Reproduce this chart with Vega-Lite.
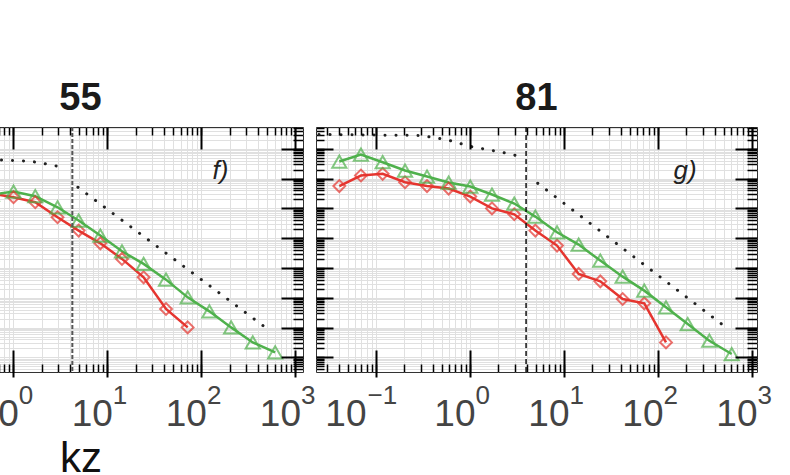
{
  "$schema": "https://vega.github.io/schema/vega-lite/v6.json",
  "padding": {"left": -144, "top": 79, "right": 0, "bottom": 0},
  "bounds": "flush",
  "spacing": 13,
  "config": {"view": {"stroke": "#333333", "strokeWidth": 1}, "font": "Liberation Sans"},
  "datasets": {
    "spectra": [
      {"panel": "55", "series": "A", "kz": 0.5929, "E": 0.03148},
      {"panel": "55", "series": "A", "kz": 1.007, "E": 0.02366},
      {"panel": "55", "series": "A", "kz": 1.714, "E": 0.01607},
      {"panel": "55", "series": "A", "kz": 2.958, "E": 0.005035},
      {"panel": "55", "series": "A", "kz": 4.955, "E": 0.001803},
      {"panel": "55", "series": "A", "kz": 8.433, "E": 0.0006745},
      {"panel": "55", "series": "A", "kz": 14.32, "E": 0.0002018},
      {"panel": "55", "series": "A", "kz": 24.32, "E": 4.864e-5},
      {"panel": "55", "series": "A", "kz": 42.07, "E": 4.217e-6},
      {"panel": "55", "series": "A", "kz": 71.45, "E": 1.016e-6},
      {"panel": "55", "series": "B", "kz": 0.5929, "E": 0.02917},
      {"panel": "55", "series": "B", "kz": 1.007, "E": 0.03681},
      {"panel": "55", "series": "B", "kz": 1.714, "E": 0.02559},
      {"panel": "55", "series": "B", "kz": 2.958, "E": 0.01091},
      {"panel": "55", "series": "B", "kz": 4.955, "E": 0.003908},
      {"panel": "55", "series": "B", "kz": 8.433, "E": 0.001225},
      {"panel": "55", "series": "B", "kz": 14.32, "E": 0.0003631},
      {"panel": "55", "series": "B", "kz": 24.32, "E": 0.0001371},
      {"panel": "55", "series": "B", "kz": 42.07, "E": 4.074e-5},
      {"panel": "55", "series": "B", "kz": 71.45, "E": 1.035e-5},
      {"panel": "55", "series": "B", "kz": 121.6, "E": 3.508e-6},
      {"panel": "55", "series": "B", "kz": 207.0, "E": 1.016e-6},
      {"panel": "55", "series": "B", "kz": 351.6, "E": 3.184e-7},
      {"panel": "55", "series": "B", "kz": 608.1, "E": 1.472e-7},
      {"panel": "81", "series": "A", "kz": 0.04074, "E": 0.0562},
      {"panel": "81", "series": "A", "kz": 0.06918, "E": 0.1268},
      {"panel": "81", "series": "A", "kz": 0.1178, "E": 0.1445},
      {"panel": "81", "series": "A", "kz": 0.2037, "E": 0.0755},
      {"panel": "81", "series": "A", "kz": 0.3491, "E": 0.0562},
      {"panel": "81", "series": "A", "kz": 0.5929, "E": 0.0463},
      {"panel": "81", "series": "A", "kz": 1.007, "E": 0.025},
      {"panel": "81", "series": "A", "kz": 1.714, "E": 0.01002},
      {"panel": "81", "series": "A", "kz": 2.958, "E": 0.00635},
      {"panel": "81", "series": "A", "kz": 4.955, "E": 0.0018},
      {"panel": "81", "series": "A", "kz": 8.433, "E": 0.000565},
      {"panel": "81", "series": "A", "kz": 14.32, "E": 6.32e-5},
      {"panel": "81", "series": "A", "kz": 24.32, "E": 3.56e-5},
      {"panel": "81", "series": "A", "kz": 42.07, "E": 9.14e-6},
      {"panel": "81", "series": "A", "kz": 71.45, "E": 6.52e-6},
      {"panel": "81", "series": "A", "kz": 121.6, "E": 3.19e-7},
      {"panel": "81", "series": "B", "kz": 0.04074, "E": 0.374},
      {"panel": "81", "series": "B", "kz": 0.06918, "E": 0.644},
      {"panel": "81", "series": "B", "kz": 0.1178, "E": 0.355},
      {"panel": "81", "series": "B", "kz": 0.2037, "E": 0.1866},
      {"panel": "81", "series": "B", "kz": 0.3491, "E": 0.1175},
      {"panel": "81", "series": "B", "kz": 0.5929, "E": 0.0738},
      {"panel": "81", "series": "B", "kz": 1.007, "E": 0.0542},
      {"panel": "81", "series": "B", "kz": 1.714, "E": 0.0292},
      {"panel": "81", "series": "B", "kz": 2.958, "E": 0.01455},
      {"panel": "81", "series": "B", "kz": 4.955, "E": 0.00532},
      {"panel": "81", "series": "B", "kz": 8.433, "E": 0.00158},
      {"panel": "81", "series": "B", "kz": 14.32, "E": 0.00061},
      {"panel": "81", "series": "B", "kz": 24.32, "E": 0.000177},
      {"panel": "81", "series": "B", "kz": 42.07, "E": 5.13e-5},
      {"panel": "81", "series": "B", "kz": 71.45, "E": 1.74e-5},
      {"panel": "81", "series": "B", "kz": 121.6, "E": 4.78e-6},
      {"panel": "81", "series": "B", "kz": 207.0, "E": 1.32e-6},
      {"panel": "81", "series": "B", "kz": 351.6, "E": 3.63e-7},
      {"panel": "81", "series": "B", "kz": 608.1, "E": 1.3e-7}
    ],
    "model": [
      {"panel": "55", "seg": 1, "kz": 0.5734, "E": 0.4371},
      {"panel": "55", "seg": 1, "kz": 1.528, "E": 0.3832},
      {"panel": "55", "seg": 1, "kz": 2.555, "E": 0.2901},
      {"panel": "55", "seg": 1, "kz": 3.034, "E": 0.2543},
      {"panel": "55", "seg": 2, "kz": 4.866, "E": 0.05129},
      {"panel": "55", "seg": 2, "kz": 503.5, "E": 8.995e-7},
      {"panel": "81", "seg": 1, "kz": 0.02477, "E": 3.02},
      {"panel": "81", "seg": 1, "kz": 0.3013, "E": 2.8},
      {"panel": "81", "seg": 1, "kz": 0.5559, "E": 2.051},
      {"panel": "81", "seg": 1, "kz": 1.025, "E": 1.195},
      {"panel": "81", "seg": 1, "kz": 2.665, "E": 0.679},
      {"panel": "81", "seg": 1, "kz": 3.664, "E": 0.5105},
      {"panel": "81", "seg": 2, "kz": 5.252, "E": 0.0699},
      {"panel": "81", "seg": 2, "kz": 528.8, "E": 1.017e-6}
    ],
    "cutoff": [
      {"panel": "55", "kz": 4.25},
      {"panel": "81", "kz": 3.95}
    ],
    "labels": [
      {"panel": "55", "label": "f)"},
      {"panel": "81", "label": "g)"}
    ]
  },
  "hconcat": [
    {
      "width": 445,
      "height": 245,
      "title": {"text": "55", "fontSize": 38, "fontWeight": "bold", "font": "Liberation Sans", "color": "#1a1a1a", "frame": "group", "offset": -22, "baseline": "alphabetic"},
      "resolve": {"axis": {"x": "independent", "y": "independent"}},
      "layer": [
        {
          "data": {"name": "spectra"},
          "transform": [{"filter": "datum.panel == '55'"}],
          "mark": {"type": "line", "strokeWidth": 2.5, "clip": true},
          "encoding": {
            "x": {"field": "kz", "type": "quantitative", "scale": {"type": "log", "domain": [0.022387, 1202.3], "nice": false},
              "axis": {"orient": "bottom", "values": [0.03,0.04,0.05,0.06,0.07,0.08,0.09,0.1,0.2,0.3,0.4,0.5,0.6,0.7,0.8,0.9,1,2,3,4,5,6,7,8,9,10,20,30,40,50,60,70,80,90,100,200,300,400,500,600,700,800,900,1000], "grid": true, "gridColor": "#e0e0e0", "gridWidth": 1, "ticks": true, "tickSize": -8, "tickColor": "#000000", "tickWidth": 1.5, "labels": false, "domain": false, "title": null, "zindex": 0}},
            "y": {"field": "E", "type": "quantitative", "scale": {"type": "log", "domain": [3.236e-8, 5.395], "nice": false},
              "axis": {"orient": "left", "values": [4e-8,5e-8,6e-8,7e-8,8e-8,9e-8,1e-7,2e-7,3e-7,4e-7,5e-7,6e-7,7e-7,8e-7,9e-7,1e-6,2e-6,3e-6,4e-6,5e-6,6e-6,7e-6,8e-6,9e-6,1e-5,2e-5,3e-5,4e-5,5e-5,6e-5,7e-5,8e-5,9e-5,0.0001,0.0002,0.0003,0.0004,0.0005,0.0006,0.0007,0.0008,0.0009,0.001,0.002,0.003,0.004,0.005,0.006,0.007,0.008,0.009,0.01,0.02,0.03,0.04,0.05,0.06,0.07,0.08,0.09,0.1,0.2,0.3,0.4,0.5,0.6,0.7,0.8,0.9,1,2,3,4,5], "grid": true, "gridColor": "#e0e0e0", "gridWidth": 1, "ticks": true, "tickSize": -8, "tickColor": "#000000", "tickWidth": 1.5, "labels": false, "domain": false, "title": null, "zindex": 0}},
            "color": {"field": "series", "type": "nominal", "scale": {"domain": ["A", "B"], "range": ["#e5352f", "#4fb14c"]}, "legend": null}
          }
        },
        {
          "data": {"name": "spectra"},
          "transform": [{"filter": "datum.panel == '55' && datum.series == 'A'"}],
          "mark": {"type": "point", "shape": "diamond", "filled": false, "size": 140, "strokeWidth": 2, "color": "#e5352f", "clip": true},
          "encoding": {
            "x": {"field": "kz", "type": "quantitative", "scale": {"type": "log", "domain": [0.022387, 1202.3], "nice": false},
              "axis": {"orient": "bottom", "values": [0.1, 1, 10, 100, 1000], "grid": false, "ticks": true, "tickSize": -27, "offset": 5, "tickColor": "#000000", "tickWidth": 2, "labels": false, "domain": false, "title": null, "zindex": 1}},
            "y": {"field": "E", "type": "quantitative", "scale": {"type": "log", "domain": [3.236e-8, 5.395], "nice": false},
              "axis": {"orient": "left", "values": [1e-7,1e-6,1e-5,0.0001,0.001,0.01,0.1,1], "grid": false, "ticks": true, "tickSize": -17, "tickColor": "#000000", "tickWidth": 2, "labels": false, "domain": false, "title": null, "zindex": 1}}
          }
        },
        {
          "data": {"name": "spectra"},
          "transform": [{"filter": "datum.panel == '55' && datum.series == 'B'"}],
          "mark": {"type": "point", "shape": "triangle-up", "filled": false, "size": 200, "strokeWidth": 2, "color": "#4fb14c", "clip": true},
          "encoding": {
            "x": {"field": "kz", "type": "quantitative", "scale": {"type": "log", "domain": [0.022387, 1202.3], "nice": false},
              "axis": {"orient": "top", "values": [0.03,0.04,0.05,0.06,0.07,0.08,0.09,0.1,0.2,0.3,0.4,0.5,0.6,0.7,0.8,0.9,1,2,3,4,5,6,7,8,9,10,20,30,40,50,60,70,80,90,100,200,300,400,500,600,700,800,900,1000], "grid": false, "ticks": true, "tickSize": -8, "tickColor": "#000000", "tickWidth": 1.5, "labels": false, "domain": false, "title": null, "zindex": 1}},
            "y": {"field": "E", "type": "quantitative", "scale": {"type": "log", "domain": [3.236e-8, 5.395], "nice": false},
              "axis": {"orient": "right", "values": [4e-8,5e-8,6e-8,7e-8,8e-8,9e-8,1e-7,2e-7,3e-7,4e-7,5e-7,6e-7,7e-7,8e-7,9e-7,1e-6,2e-6,3e-6,4e-6,5e-6,6e-6,7e-6,8e-6,9e-6,1e-5,2e-5,3e-5,4e-5,5e-5,6e-5,7e-5,8e-5,9e-5,0.0001,0.0002,0.0003,0.0004,0.0005,0.0006,0.0007,0.0008,0.0009,0.001,0.002,0.003,0.004,0.005,0.006,0.007,0.008,0.009,0.01,0.02,0.03,0.04,0.05,0.06,0.07,0.08,0.09,0.1,0.2,0.3,0.4,0.5,0.6,0.7,0.8,0.9,1,2,3,4,5], "grid": false, "ticks": true, "tickSize": -10, "tickColor": "#000000", "tickWidth": 1.5, "labels": false, "domain": false, "title": null, "zindex": 1}}
          }
        },
        {
          "data": {"name": "model"},
          "transform": [{"filter": "datum.panel == '55'"}],
          "mark": {"type": "line", "color": "#222222", "strokeWidth": 3, "strokeCap": "round", "strokeDash": [0.1, 10.9], "clip": true},
          "encoding": {
            "detail": {"field": "seg", "type": "nominal"},
            "x": {"field": "kz", "type": "quantitative", "scale": {"type": "log", "domain": [0.022387, 1202.3], "nice": false},
              "axis": {"orient": "top", "values": [0.1, 1, 10, 100, 1000], "grid": false, "ticks": true, "tickSize": -22, "tickColor": "#000000", "tickWidth": 2, "labels": false, "domain": false, "title": null, "zindex": 1}},
            "y": {"field": "E", "type": "quantitative", "scale": {"type": "log", "domain": [3.236e-8, 5.395], "nice": false},
              "axis": {"orient": "right", "values": [1e-7,1e-6,1e-5,0.0001,0.001,0.01,0.1,1], "grid": false, "ticks": true, "tickSize": -22, "tickColor": "#000000", "tickWidth": 2, "labels": false, "domain": false, "title": null, "zindex": 1}}
          }
        },
        {
          "data": {"name": "cutoff"},
          "transform": [{"filter": "datum.panel == '55'"}],
          "mark": {"type": "rule", "color": "#555555", "strokeWidth": 2, "strokeDash": [4, 2]},
          "encoding": {
            "x": {"field": "kz", "type": "quantitative", "scale": {"type": "log", "domain": [0.022387, 1202.3], "nice": false},
              "axis": {"orient": "bottom", "values": [0.1, 1, 10, 100, 1000], "grid": false, "ticks": false, "labels": true, "domain": false, "labelExpr": "'10'", "labelFont": "Liberation Sans Narrow, Liberation Sans", "labelFontSize": 37, "labelColor": "#444444", "labelAlign": "right", "labelBaseline": "alphabetic", "labelPadding": 53.5, "labelOffset": {"condition": {"test": "datum.value < 0.5", "value": -10}, "value": 5}, "labelFlush": false, "labelOverlap": false, "title": "kz", "titleFont": "Liberation Sans", "titleFontSize": 42, "titleFontWeight": "normal", "titleColor": "#111111", "titleY": 99.5, "titleBaseline": "alphabetic", "zindex": 1}}
          }
        },
        {
          "data": {"name": "labels"},
          "transform": [{"filter": "datum.panel == '55'"}],
          "mark": {"type": "text", "font": "Liberation Sans", "fontStyle": "italic", "fontSize": 26, "color": "#222222", "align": "center", "baseline": "middle"},
          "encoding": {
            "text": {"field": "label", "type": "nominal"},
            "x": {"datum": 159.7, "type": "quantitative", "scale": {"type": "log", "domain": [0.022387, 1202.3], "nice": false},
              "axis": {"orient": "bottom", "values": [0.1, 1, 10, 100, 1000], "grid": false, "ticks": false, "labels": true, "domain": false, "labelExpr": "datum.value < 0.5 ? '−1' : datum.value < 5 ? '0' : datum.value < 50 ? '1' : datum.value < 500 ? '2' : '3'", "labelFont": "Liberation Sans Narrow, Liberation Sans", "labelFontSize": 26, "labelColor": "#444444", "labelAlign": "left", "labelBaseline": "alphabetic", "labelPadding": 31.5, "labelOffset": {"condition": {"test": "datum.value < 0.5", "value": -9}, "value": 5}, "labelFlush": false, "labelOverlap": false, "title": null, "zindex": 1}},
            "y": {"datum": 0.1866, "type": "quantitative", "scale": {"type": "log", "domain": [3.236e-8, 5.395], "nice": false}, "axis": null}
          }
        }
      ]
    },
    {
      "width": 441,
      "height": 245,
      "title": {"text": "81", "fontSize": 38, "fontWeight": "bold", "font": "Liberation Sans", "color": "#1a1a1a", "frame": "group", "offset": -22, "baseline": "alphabetic"},
      "resolve": {"axis": {"x": "independent", "y": "independent"}},
      "layer": [
        {
          "data": {"name": "spectra"},
          "transform": [{"filter": "datum.panel == '81'"}],
          "mark": {"type": "line", "strokeWidth": 2.5, "clip": true},
          "encoding": {
            "x": {"field": "kz", "type": "quantitative", "scale": {"type": "log", "domain": [0.023014, 1129.8], "nice": false},
              "axis": {"orient": "bottom", "values": [0.03,0.04,0.05,0.06,0.07,0.08,0.09,0.1,0.2,0.3,0.4,0.5,0.6,0.7,0.8,0.9,1,2,3,4,5,6,7,8,9,10,20,30,40,50,60,70,80,90,100,200,300,400,500,600,700,800,900,1000], "grid": true, "gridColor": "#e0e0e0", "gridWidth": 1, "ticks": true, "tickSize": -8, "tickColor": "#000000", "tickWidth": 1.5, "labels": false, "domain": false, "title": null, "zindex": 0}},
            "y": {"field": "E", "type": "quantitative", "scale": {"type": "log", "domain": [3.236e-8, 5.395], "nice": false},
              "axis": {"orient": "left", "values": [4e-8,5e-8,6e-8,7e-8,8e-8,9e-8,1e-7,2e-7,3e-7,4e-7,5e-7,6e-7,7e-7,8e-7,9e-7,1e-6,2e-6,3e-6,4e-6,5e-6,6e-6,7e-6,8e-6,9e-6,1e-5,2e-5,3e-5,4e-5,5e-5,6e-5,7e-5,8e-5,9e-5,0.0001,0.0002,0.0003,0.0004,0.0005,0.0006,0.0007,0.0008,0.0009,0.001,0.002,0.003,0.004,0.005,0.006,0.007,0.008,0.009,0.01,0.02,0.03,0.04,0.05,0.06,0.07,0.08,0.09,0.1,0.2,0.3,0.4,0.5,0.6,0.7,0.8,0.9,1,2,3,4,5], "grid": true, "gridColor": "#e0e0e0", "gridWidth": 1, "ticks": true, "tickSize": -8, "tickColor": "#000000", "tickWidth": 1.5, "labels": false, "domain": false, "title": null, "zindex": 0}},
            "color": {"field": "series", "type": "nominal", "scale": {"domain": ["A", "B"], "range": ["#e5352f", "#4fb14c"]}, "legend": null}
          }
        },
        {
          "data": {"name": "spectra"},
          "transform": [{"filter": "datum.panel == '81' && datum.series == 'A'"}],
          "mark": {"type": "point", "shape": "diamond", "filled": false, "size": 140, "strokeWidth": 2, "color": "#e5352f", "clip": true},
          "encoding": {
            "x": {"field": "kz", "type": "quantitative", "scale": {"type": "log", "domain": [0.023014, 1129.8], "nice": false},
              "axis": {"orient": "bottom", "values": [0.1, 1, 10, 100, 1000], "grid": false, "ticks": true, "tickSize": -27, "offset": 5, "tickColor": "#000000", "tickWidth": 2, "labels": false, "domain": false, "title": null, "zindex": 1}},
            "y": {"field": "E", "type": "quantitative", "scale": {"type": "log", "domain": [3.236e-8, 5.395], "nice": false},
              "axis": {"orient": "left", "values": [1e-7,1e-6,1e-5,0.0001,0.001,0.01,0.1,1], "grid": false, "ticks": true, "tickSize": -17, "tickColor": "#000000", "tickWidth": 2, "labels": false, "domain": false, "title": null, "zindex": 1}}
          }
        },
        {
          "data": {"name": "spectra"},
          "transform": [{"filter": "datum.panel == '81' && datum.series == 'B'"}],
          "mark": {"type": "point", "shape": "triangle-up", "filled": false, "size": 200, "strokeWidth": 2, "color": "#4fb14c", "clip": true},
          "encoding": {
            "x": {"field": "kz", "type": "quantitative", "scale": {"type": "log", "domain": [0.023014, 1129.8], "nice": false},
              "axis": {"orient": "top", "values": [0.03,0.04,0.05,0.06,0.07,0.08,0.09,0.1,0.2,0.3,0.4,0.5,0.6,0.7,0.8,0.9,1,2,3,4,5,6,7,8,9,10,20,30,40,50,60,70,80,90,100,200,300,400,500,600,700,800,900,1000], "grid": false, "ticks": true, "tickSize": -8, "tickColor": "#000000", "tickWidth": 1.5, "labels": false, "domain": false, "title": null, "zindex": 1}},
            "y": {"field": "E", "type": "quantitative", "scale": {"type": "log", "domain": [3.236e-8, 5.395], "nice": false},
              "axis": {"orient": "right", "values": [4e-8,5e-8,6e-8,7e-8,8e-8,9e-8,1e-7,2e-7,3e-7,4e-7,5e-7,6e-7,7e-7,8e-7,9e-7,1e-6,2e-6,3e-6,4e-6,5e-6,6e-6,7e-6,8e-6,9e-6,1e-5,2e-5,3e-5,4e-5,5e-5,6e-5,7e-5,8e-5,9e-5,0.0001,0.0002,0.0003,0.0004,0.0005,0.0006,0.0007,0.0008,0.0009,0.001,0.002,0.003,0.004,0.005,0.006,0.007,0.008,0.009,0.01,0.02,0.03,0.04,0.05,0.06,0.07,0.08,0.09,0.1,0.2,0.3,0.4,0.5,0.6,0.7,0.8,0.9,1,2,3,4,5], "grid": false, "ticks": true, "tickSize": -10, "tickColor": "#000000", "tickWidth": 1.5, "labels": false, "domain": false, "title": null, "zindex": 1}}
          }
        },
        {
          "data": {"name": "model"},
          "transform": [{"filter": "datum.panel == '81'"}],
          "mark": {"type": "line", "color": "#222222", "strokeWidth": 3, "strokeCap": "round", "strokeDash": [0.1, 10.9], "clip": true},
          "encoding": {
            "detail": {"field": "seg", "type": "nominal"},
            "x": {"field": "kz", "type": "quantitative", "scale": {"type": "log", "domain": [0.023014, 1129.8], "nice": false},
              "axis": {"orient": "top", "values": [0.1, 1, 10, 100, 1000], "grid": false, "ticks": true, "tickSize": -22, "tickColor": "#000000", "tickWidth": 2, "labels": false, "domain": false, "title": null, "zindex": 1}},
            "y": {"field": "E", "type": "quantitative", "scale": {"type": "log", "domain": [3.236e-8, 5.395], "nice": false},
              "axis": {"orient": "right", "values": [1e-7,1e-6,1e-5,0.0001,0.001,0.01,0.1,1], "grid": false, "ticks": true, "tickSize": -22, "tickColor": "#000000", "tickWidth": 2, "labels": false, "domain": false, "title": null, "zindex": 1}}
          }
        },
        {
          "data": {"name": "cutoff"},
          "transform": [{"filter": "datum.panel == '81'"}],
          "mark": {"type": "rule", "color": "#111111", "strokeWidth": 1.5, "strokeDash": [5, 3]},
          "encoding": {
            "x": {"field": "kz", "type": "quantitative", "scale": {"type": "log", "domain": [0.023014, 1129.8], "nice": false},
              "axis": {"orient": "bottom", "values": [0.1, 1, 10, 100, 1000], "grid": false, "ticks": false, "labels": true, "domain": false, "labelExpr": "'10'", "labelFont": "Liberation Sans Narrow, Liberation Sans", "labelFontSize": 37, "labelColor": "#444444", "labelAlign": "right", "labelBaseline": "alphabetic", "labelPadding": 53.5, "labelOffset": {"condition": {"test": "datum.value < 0.5", "value": -10}, "value": 5}, "labelFlush": false, "labelOverlap": false, "title": null, "zindex": 1}}
          }
        },
        {
          "data": {"name": "labels"},
          "transform": [{"filter": "datum.panel == '81'"}],
          "mark": {"type": "text", "font": "Liberation Sans", "fontStyle": "italic", "fontSize": 26, "color": "#222222", "align": "center", "baseline": "middle"},
          "encoding": {
            "text": {"field": "label", "type": "nominal"},
            "x": {"datum": 193.6, "type": "quantitative", "scale": {"type": "log", "domain": [0.023014, 1129.8], "nice": false},
              "axis": {"orient": "bottom", "values": [0.1, 1, 10, 100, 1000], "grid": false, "ticks": false, "labels": true, "domain": false, "labelExpr": "datum.value < 0.5 ? '−1' : datum.value < 5 ? '0' : datum.value < 50 ? '1' : datum.value < 500 ? '2' : '3'", "labelFont": "Liberation Sans Narrow, Liberation Sans", "labelFontSize": 26, "labelColor": "#444444", "labelAlign": "left", "labelBaseline": "alphabetic", "labelPadding": 31.5, "labelOffset": {"condition": {"test": "datum.value < 0.5", "value": -9}, "value": 5}, "labelFlush": false, "labelOverlap": false, "title": null, "zindex": 1}},
            "y": {"datum": 0.1866, "type": "quantitative", "scale": {"type": "log", "domain": [3.236e-8, 5.395], "nice": false}, "axis": null}
          }
        }
      ]
    }
  ]
}
